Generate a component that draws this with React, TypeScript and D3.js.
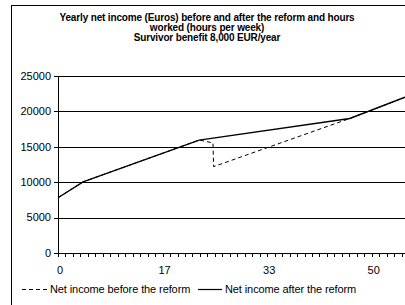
import * as d3 from 'd3'

// hours worked per week (x) and yearly net income in euros (y)
const beforeHours = [0, 4, 22.5, 24.7, 24.8, 46.5, 55.3]
const beforeIncome = [7800, 10050, 15950, 15550, 12200, 19000, 22000]
const afterHours = [0, 4, 22.5, 46.5, 55.3]
const afterIncome = [7800, 10050, 15950, 19000, 22000]

const yTicks = [0, 5000, 10000, 15000, 20000, 25000]
const xLabelHours = [0, 50 / 3, 100 / 3, 50]
const titleLines = [
  'Yearly net income (Euros) before and after the reform and hours',
  'worked (hours per week)',
  'Survivor benefit 8,000 EUR/year',
]
const legendLabels = ['Net income before the reform', 'Net income after the reform']

const W = 405
const H = 305
const font = '"Liberation Sans", Arial, sans-serif'

export default function App() {
  const margin = { left: 58, top: 76, bottom: 253 }
  const x = d3.scaleLinear().domain([0, 55.3]).range([margin.left, W])
  const y = d3.scaleLinear().domain([0, 25000]).range([margin.bottom, margin.top])

  const line = d3
    .line<[number, number]>()
    .x(d => x(d[0]))
    .y(d => y(d[1]))

  const beforePts = beforeHours.map((h, i) => [h, beforeIncome[i]] as [number, number])
  const afterPts = afterHours.map((h, i) => [h, afterIncome[i]] as [number, number])

  // minor ticks every category (50/42 hours)
  const step = 50 / 42
  const minorTicks = d3.range(0, 55.3, step)

  return (
    <svg
      width={W}
      height={H}
      style={{ position: 'absolute', left: 0, top: 0, background: '#fff' }}
      fontFamily={font}
    >
      {/* chart frame */}
      <rect x={11.5} y={5.5} width={500} height={400} fill="none" stroke="#000" />

      {titleLines.map((t, i) => (
        <text
          key={i}
          x={207}
          y={21 + i * 10}
          textAnchor="middle"
          fontSize={10}
          fontWeight="bold"
          letterSpacing={-0.15}
        >
          {t}
        </text>
      ))}

      {/* gridlines */}
      {yTicks.slice(1).map(t => (
        <line key={t} x1={margin.left} x2={W} y1={Math.round(y(t)) + 0.5} y2={Math.round(y(t)) + 0.5} stroke="#000" />
      ))}

      {/* y axis */}
      <line x1={margin.left + 0.5} x2={margin.left + 0.5} y1={margin.top} y2={margin.bottom + 1} stroke="#000" />
      {yTicks.map(t => (
        <g key={t}>
          <line x1={margin.left - 4} x2={margin.left} y1={Math.round(y(t)) + 0.5} y2={Math.round(y(t)) + 0.5} stroke="#000" />
          <text x={margin.left - 7} y={y(t)} dy="0.35em" textAnchor="end" fontSize={11}>
            {t}
          </text>
        </g>
      ))}

      {/* x axis */}
      <line x1={margin.left} x2={W} y1={margin.bottom + 0.5} y2={margin.bottom + 0.5} stroke="#000" />
      {minorTicks.map((h, i) => (
        <line
          key={i}
          x1={Math.round(x(h)) + 0.5}
          x2={Math.round(x(h)) + 0.5}
          y1={margin.bottom}
          y2={margin.bottom + 4}
          stroke="#000"
        />
      ))}
      {xLabelHours.map(h => (
        <text key={h} x={x(h) + 2} y={270} dy="0.35em" textAnchor="middle" fontSize={11}>
          {Math.round(h)}
        </text>
      ))}

      {/* series */}
      <path d={line(beforePts) ?? ''} fill="none" stroke="#000" strokeWidth={1} strokeDasharray="4,3" />
      <path d={line(afterPts) ?? ''} fill="none" stroke="#000" strokeWidth={1.4} />

      {/* legend */}
      <g fontSize={11} letterSpacing={-0.1}>
        <line x1={22} x2={48} y1={289.5} y2={289.5} stroke="#000" strokeDasharray="4,3" />
        <text x={50} y={289} dy="0.35em">{legendLabels[0]}</text>
        <line x1={198} x2={222} y1={289.5} y2={289.5} stroke="#000" strokeWidth={1.2} />
        <text x={225} y={289} dy="0.35em">{legendLabels[1]}</text>
      </g>
    </svg>
  )
}
